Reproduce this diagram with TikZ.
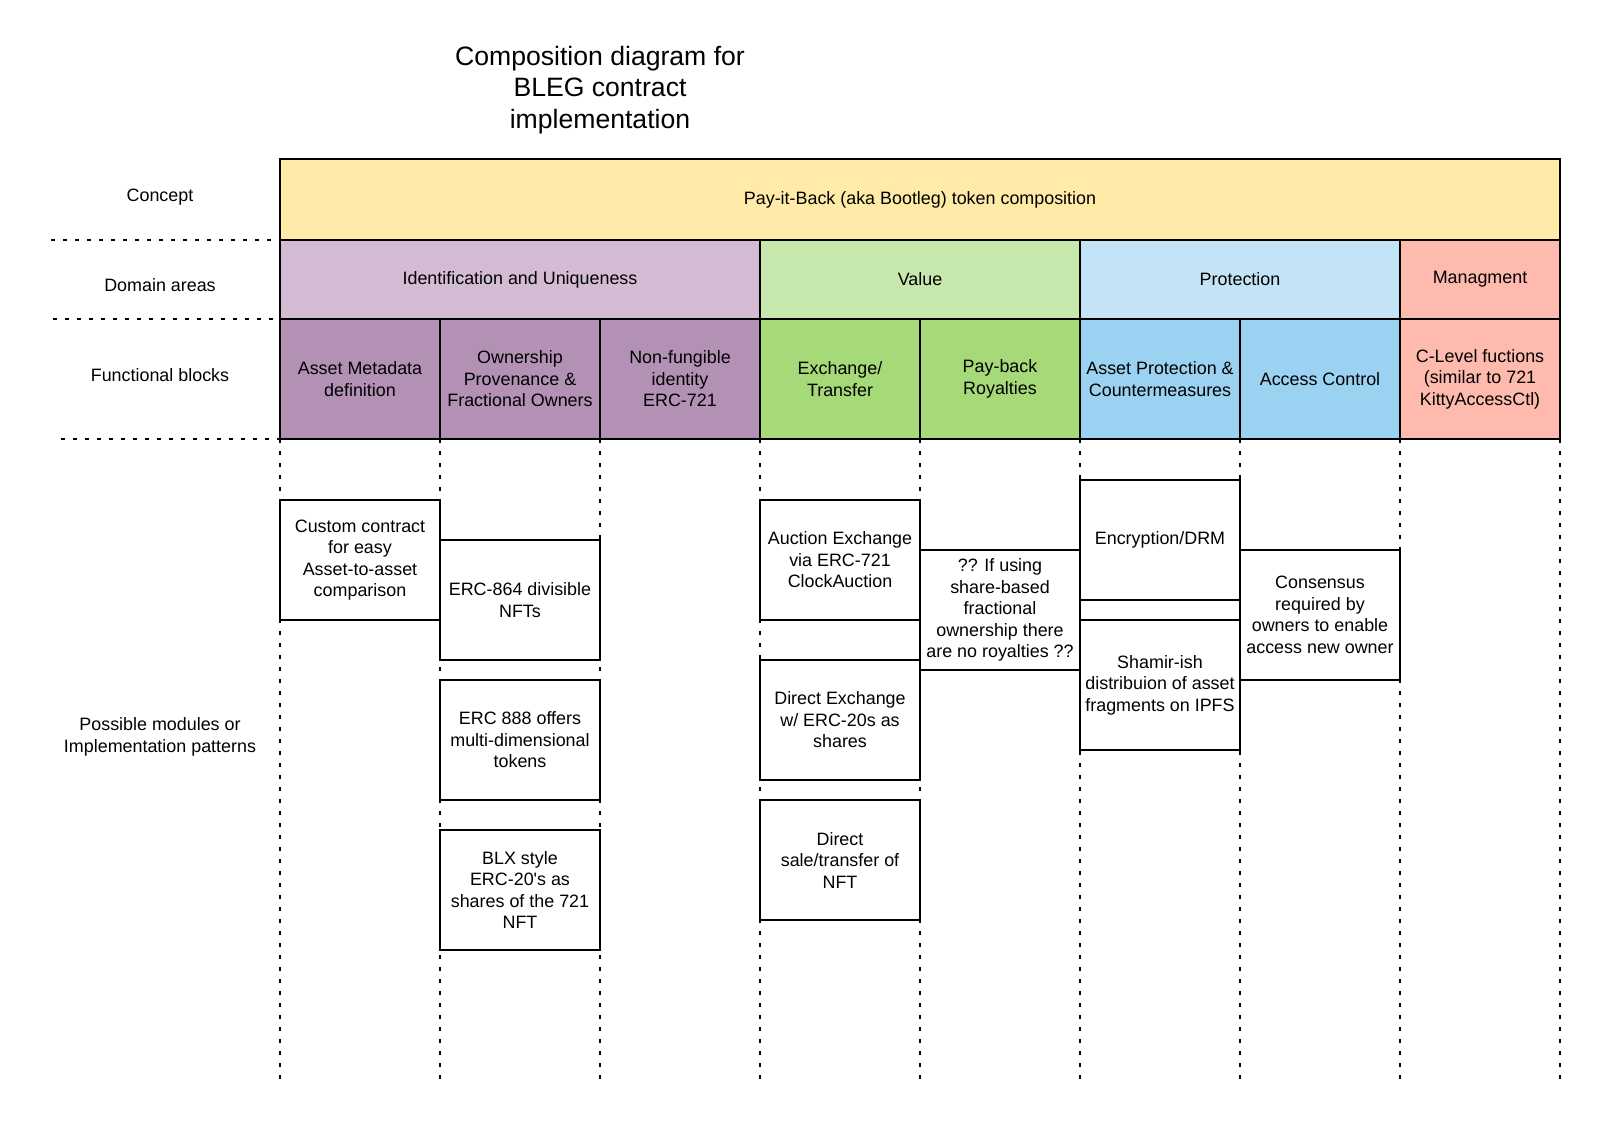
\documentclass[tikz,border=0pt]{standalone}
\usepackage{fontspec}
\setmainfont{Liberation Sans}
\usetikzlibrary{positioning}

\definecolor{conceptcol}{HTML}{FFEAA7}
\definecolor{idlight}{HTML}{D2BBD3}
\definecolor{iddark}{HTML}{B391B5}
\definecolor{vallight}{HTML}{C7E8AC}
\definecolor{valdark}{HTML}{A6D977}
\definecolor{protlight}{HTML}{C2E4F6}
\definecolor{protdark}{HTML}{9BD2F1}
\definecolor{mgmtcol}{HTML}{FFBAAE}

\begin{document}
\begin{tikzpicture}[x=1pt,y=-1pt,
  txt/.style={font=\fontsize{17.9}{21.5}\selectfont,align=center},
  cell/.style={txt,draw,line width=2.2pt,anchor=north west,inner sep=0pt,outer sep=0pt,minimum width=160pt},
  module/.style={cell,line width=2pt,fill=white,minimum height=120pt},
  guide/.style={line width=1.8pt,dash pattern=on 3.5pt off 8.5pt}]
\useasboundingbox (0,0) rectangle (1602,1120);

% title
\node (title) [align=center,font=\fontsize{26.6}{31.8}\selectfont] at (600,90)
  {Composition diagram for\\BLEG contract\\implementation};

% row labels
\node (lconcept) [txt] at (160,197) {Concept};
\node (ldomain) [txt] at (160,285) {Domain areas};
\node (lfunc) [txt] at (160,375) {Functional blocks};
\node (lmod) [txt] at (160,737) {Possible modules or\\Implementation patterns};

% concept
\node (concept) [cell,fill=conceptcol,minimum width=1280pt,minimum height=81pt] at (280,159)
  {Pay-it-Back (aka Bootleg) token composition};

% domain areas
\node (ident) [cell,fill=idlight,minimum width=480pt,minimum height=79pt] at (280,240) {Identification and Uniqueness};
\node (value) [cell,fill=vallight,minimum width=320pt,minimum height=79pt] at (760,240) {Value};
\node (protect) [cell,fill=protlight,minimum width=320pt,minimum height=79pt] at (1080,240) {Protection};
\node (mgmt) [cell,fill=mgmtcol,minimum height=79pt] at (1400,240) {Managment};

% functional blocks
\node (f1) [cell,fill=iddark,minimum height=120pt] at (280,319) {Asset Metadata\\definition};
\node (f2) [cell,fill=iddark,minimum height=120pt] at (440,319) {Ownership\\Provenance \&\\Fractional Owners};
\node (f3) [cell,fill=iddark,minimum height=120pt] at (600,319) {Non-fungible\\identity\\ERC-721};
\node (f4) [cell,fill=valdark,minimum height=120pt] at (760,319) {Exchange/\\Transfer};
\node (f5) [cell,fill=valdark,minimum height=120pt] at (920,319) {Pay-back\\Royalties};
\node (f6) [cell,fill=protdark,minimum height=120pt] at (1080,319) {Asset Protection \&\\Countermeasures};
\node (f7) [cell,fill=protdark,minimum height=120pt] at (1240,319) {Access Control};
\node (f8) [cell,fill=mgmtcol,minimum height=120pt] at (1400,319) {C-Level fuctions\\(similar to 721\\KittyAccessCtl)};

% row separators
\draw [guide] (51,240) -- (concept.south west);
\draw [guide] (53,319) -- (ident.south west);
\draw [guide] (61,439) -- (f1.south west);

% column guides
\foreach \i in {0,...,8}
  \draw [guide] (280+160*\i,439) -- (280+160*\i,1079);

% modules
\node (m1) [module] at (280,500) {Custom contract\\for easy\\Asset-to-asset\\comparison};
\node (m2) [module] at (440,540) {ERC-864 divisible\\NFTs};
\node (m3) [module] at (440,680) {ERC 888 offers\\multi-dimensional\\tokens};
\node (m4) [module] at (440,830) {BLX style\\ERC-20\textquotesingle s as\\shares of the 721\\NFT};
\node (m5) [module] at (760,500) {Auction Exchange\\via ERC-721\\ClockAuction};
\node (m6) [module] at (760,660) {Direct Exchange\\w/ ERC-20s as\\shares};
\node (m7) [module] at (760,800) {Direct\\sale/transfer of\\NFT};
\node (m8) [module] at (920,550) {?? If using\\share-based\\fractional\\ownership there\\are no royalties ??};
\node (m9) [module] at (1080,480) {Encryption/DRM};
\node (m10) [module,minimum height=130pt] at (1080,620) {Shamir-ish\\distribuion of asset\\fragments on IPFS};
\node (m11) [module,minimum height=130pt] at (1240,550) {Consensus\\required by\\owners to enable\\access new owner};
\end{tikzpicture}
\end{document}
